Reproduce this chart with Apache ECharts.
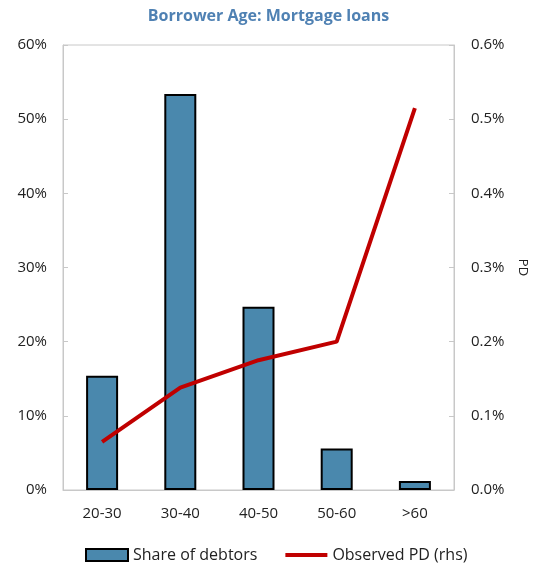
<!DOCTYPE html>
<html>
<head>
<meta charset="utf-8">
<script src="https://cdn.jsdelivr.net/npm/echarts@6/dist/echarts.min.js"></script>
<style>
  html, body { margin: 0; padding: 0; background: #fff; }
  #chart { width: 537px; height: 572px; }
</style>
</head>
<body>
<div id="chart"></div>
<script>
var ageGroups = ["20-30", "30-40", "40-50", "50-60", ">60"];
var shareOfDebtors = [15.4, 53.4, 24.7, 5.6, 1.2];   // % of debtors
var observedPD = [0.065, 0.138, 0.175, 0.2, 0.515];   // % PD (rhs)

var font = "Open Sans";
var axisGrey = "#c8c8c8";

var option = {
  backgroundColor: "#fff",
  textStyle: { fontFamily: font },
  title: {
    text: "Borrower Age: Mortgage loans",
    left: "center",
    top: 3,
    textStyle: { color: "#4f81b3", fontSize: 16, fontWeight: "bold", fontFamily: font }
  },
  legend: {
    bottom: 4,
    left: 80,
    itemWidth: 42,
    itemHeight: 12,
    itemGap: 28,
    textStyle: { fontSize: 16, color: "#222", fontFamily: font },
    data: [
      { name: "Share of debtors", icon: "rect" },
      // thin line in the middle of a 42x12 box
      { name: "Observed PD (rhs)", icon: "path://M0,0M42,12M0,4h42v4h-42z" }
    ]
  },
  grid: {
    left: 63, right: 80, top: 45, bottom: 82,
    show: true, borderColor: axisGrey, borderWidth: 1
  },
  xAxis: {
    type: "category",
    data: ageGroups,
    axisLine: { lineStyle: { color: axisGrey } },
    axisTick: { inside: true, length: 5, lineStyle: { color: axisGrey } },
    axisLabel: { color: "#222", fontSize: 15, margin: 16 }
  },
  yAxis: [
    {
      type: "value",
      min: 0, max: 60, interval: 10,
      splitLine: { show: false },
      axisLine: { show: true, lineStyle: { color: axisGrey } },
      axisTick: { show: true, inside: true, length: 5, lineStyle: { color: axisGrey } },
      axisLabel: { color: "#222", fontSize: 15, margin: 16, formatter: "{value}%" }
    },
    {
      type: "value",
      min: 0, max: 0.6, interval: 0.1,
      position: "right",
      name: "PD",
      nameLocation: "middle",
      nameRotate: -90,
      nameGap: 62,
      nameTextStyle: { color: "#222", fontSize: 13 },
      splitLine: { show: false },
      axisLine: { show: true, lineStyle: { color: axisGrey } },
      axisTick: { show: true, inside: true, length: 5, lineStyle: { color: axisGrey } },
      axisLabel: {
        color: "#222", fontSize: 15, margin: 17,
        formatter: function (v) { return v.toFixed(1) + "%"; }
      }
    }
  ],
  series: [
    {
      name: "Share of debtors",
      type: "bar",
      data: shareOfDebtors,
      barWidth: 32,
      itemStyle: { color: "#4a88ad", borderColor: "#000", borderWidth: 2 }
    },
    {
      name: "Observed PD (rhs)",
      type: "line",
      yAxisIndex: 1,
      data: observedPD,
      symbol: "none",
      lineStyle: { color: "#c00000", width: 4 },
      itemStyle: { color: "#c00000" }
    }
  ]
};

var chart = echarts.init(document.getElementById("chart"));
chart.setOption(option);
</script>
</body>
</html>
